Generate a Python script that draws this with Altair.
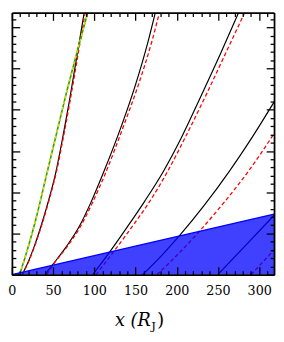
import altair as alt
import pandas as pd

X_DOMAIN = [0, 318]
Y_DOMAIN = [0, 318]
MAJOR_TICKS = [0, 50, 100, 150, 200, 250, 300]
MINOR_TICKS = [10, 20, 30, 40, 60, 70, 80, 90, 110, 120, 130, 140, 160, 170,
               180, 190, 210, 220, 230, 240, 260, 270, 280, 290, 310]

# blue shaded wedge: upper edge
wedge_x = [0, 318]
wedge_y = [0, 73.5]

# black solid curves
black_1_x = [12.5, 14.4, 20, 27, 37.5, 45, 53, 61, 69.6, 78, 87.7]
black_1_y = [0, 4, 16, 34, 66, 92, 123, 163, 210, 260, 318]
black_2_x = [40, 49.9, 66, 82, 96, 110.6, 134, 150, 165, 174]
black_2_y = [0, 12.7, 34, 59, 88, 122.7, 183.5, 230.5, 282, 318]
black_3_x = [98, 118.5, 140, 161, 183, 206, 230, 253, 275]
black_3_y = [0, 27.4, 58, 89, 124, 167, 218, 268, 318]
black_4_x = [158.6, 181, 203.8, 233, 263.7, 291, 318]
black_4_y = [0, 22.6, 47.9, 83.7, 125.4, 166, 209.4]
black_5_x = [249.7, 283, 318]
black_5_y = [0, 35, 72]

# red dashed curves
red_1_x = [12.5, 14.6, 20.3, 27.4, 38, 45.5, 53.6, 61.7, 70.4, 79, 88.8]
red_1_y = [0, 4, 16, 34, 66, 92, 123, 163, 210, 260, 318]
red_2_x = [42, 50.5, 67, 83.5, 98, 112.6, 136.6, 153.5, 169.5, 179]
red_2_y = [0, 12.7, 34, 59, 88, 121, 183.5, 230.5, 282, 318]
red_3_x = [102, 125, 146, 166, 187.6, 211, 236, 259, 282.5]
red_3_y = [0, 30, 58.5, 87, 123, 168, 219, 268, 318]
red_4_x = [176, 201, 226.6, 255.6, 284.9, 318]
red_4_y = [0, 24.4, 51.7, 85.5, 122.7, 171]
red_5_x = [290, 318]
red_5_y = [0, 30]

# green solid / yellow dashed curve
green_x = [9.4, 10, 19, 29, 42, 65, 92]
green_y = [0, 2, 31, 67, 121, 216, 318]


def frame(curves):
    rows = []
    for name, xs, ys in curves:
        for i, (x, y) in enumerate(zip(xs, ys)):
            rows.append({"curve": name, "i": i, "x": x, "y": y})
    return pd.DataFrame(rows)


black_df = frame([("b1", black_1_x, black_1_y), ("b2", black_2_x, black_2_y),
                  ("b3", black_3_x, black_3_y), ("b4", black_4_x, black_4_y),
                  ("b5", black_5_x, black_5_y)])
red_df = frame([("r1", red_1_x, red_1_y), ("r2", red_2_x, red_2_y),
                ("r3", red_3_x, red_3_y), ("r4", red_4_x, red_4_y),
                ("r5", red_5_x, red_5_y)])
green_df = frame([("g", green_x, green_y)])
wedge_df = frame([("w", wedge_x, wedge_y)])

SERIF = "DejaVu Serif"
base = dict(grid=False, zindex=1, tickColor="black", domainColor="black",
            tickWidth=1.3, domainWidth=1.8)


def tick_axis(orient, values, size, domain):
    return alt.Axis(orient=orient, values=values, tickSize={"expr": str(-size)},
                    labels=False, domain=domain, title=None, **base)


def title_axis(text, size, x, y, style, labels):
    kw = dict(orient="bottom", values=MAJOR_TICKS, ticks=False, domain=False,
              title=text, titleFont=SERIF, titleFontSize=size, titleFontStyle=style,
              titleFontWeight="normal", titleColor="black", titleX=x, titleY=y,
              titleAlign="left", titleBaseline="alphabetic", titleAngle=0,
              labels=labels, grid=False, zindex=1)
    if labels:
        kw.update(labelFont=SERIF, labelFontSize=13, labelColor="black",
                  labelPadding=10, labelFlush=False, labelOverlap=False)
    return alt.Axis(**kw)


def X(axis):
    return alt.X("x:Q", scale=alt.Scale(domain=X_DOMAIN, nice=False, zero=False), axis=axis)


def Y(axis):
    return alt.Y("y:Q", scale=alt.Scale(domain=Y_DOMAIN, nice=False, zero=False), axis=axis)


black = alt.Chart(black_df).mark_line(color="black", strokeWidth=1.2, clip=True,
                                      interpolate="monotone").encode(
    x=X(title_axis("x (R", 18, 105, 52, "italic", True)),
    y=Y(tick_axis("left", MAJOR_TICKS, 8, True)),
    detail="curve:N", order="i:Q")

red = alt.Chart(red_df).mark_line(color="#ff0000", strokeWidth=1.3, strokeDash=[4, 2.5],
                                  clip=True, interpolate="monotone").encode(
    x=X(title_axis("J", 12, 142, 56, "normal", False)),
    y=Y(tick_axis("left", MINOR_TICKS, 4, False)),
    detail="curve:N", order="i:Q")

green = alt.Chart(green_df).mark_line(color="#1f9e1f", strokeWidth=1.6, clip=True,
                                      interpolate="monotone").encode(
    x=X(title_axis(")", 18, 148, 52, "normal", False)),
    y=Y(tick_axis("right", MAJOR_TICKS, 8, True)),
    order="i:Q")

yellow = alt.Chart(green_df).mark_line(color="#e8d800", strokeWidth=1.6, strokeDash=[3, 3],
                                       clip=True, interpolate="monotone").encode(
    x=X(tick_axis("bottom", MAJOR_TICKS, 8, True)),
    y=Y(tick_axis("right", MINOR_TICKS, 4, False)),
    order="i:Q")

wedge = alt.Chart(wedge_df).mark_area(color="#0000ff", opacity=0.75, clip=True).encode(
    x=X(tick_axis("bottom", MINOR_TICKS, 4, False)),
    y=Y(None))

wedge_top = alt.Chart(wedge_df).mark_line(color="#0000ff", strokeWidth=1.3, clip=True).encode(
    x=X(tick_axis("top", MAJOR_TICKS, 8, True)),
    y=Y(None), order="i:Q")

top_minor = alt.Chart(wedge_df).mark_line(opacity=0, clip=True).encode(
    x=X(tick_axis("top", MINOR_TICKS, 4, False)),
    y=Y(None), order="i:Q")

chart = alt.layer(black, red, green, yellow, wedge, wedge_top, top_minor).resolve_axis(
    x="independent", y="independent"
).properties(
    width=268, height=268,
    autosize=alt.AutoSizeParams(type="none"),
    padding={"left": 4, "top": 1, "right": 2, "bottom": 56},
).configure_view(strokeWidth=0).configure_axis(labelFont=SERIF, titleFont=SERIF)

chart.save("out.html", embed_options={"renderer": "svg", "actions": False})
